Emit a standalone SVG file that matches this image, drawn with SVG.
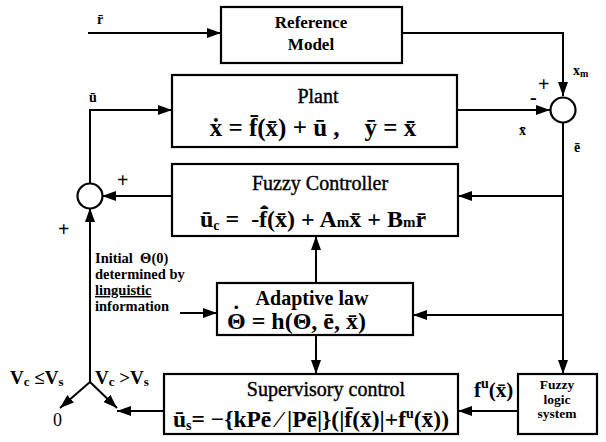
<svg xmlns="http://www.w3.org/2000/svg" width="606" height="442" viewBox="0 0 606 442">
<defs>
<marker id="ah" viewBox="0 0 14 10" refX="14" refY="5" markerWidth="14" markerHeight="10" markerUnits="userSpaceOnUse" orient="auto">
<path d="M0,0 L14,5 L0,10 Z" fill="#000"/>
</marker>
<style>
.box{fill:#fff;stroke:#000;stroke-width:2.2}
.ar{fill:none;stroke:#000;stroke-width:2;marker-end:url(#ah)}
text{font-family:'Liberation Serif','DejaVu Serif','Noto Serif',serif;font-weight:bold;fill:#000;white-space:pre}
.t{font-size:20px;text-anchor:middle}
.tn{font-size:20px;text-anchor:middle;font-weight:normal;stroke:#000;stroke-width:0.4}
.eq{font-size:24px;text-anchor:middle}
.lb{font-size:14px}
.sm{font-size:14.5px}
.pm{font-size:20px}
</style>
</defs>
<rect width="606" height="442" fill="#fff"/>
<g id="connectors">
<path class="ar" d="M88,33 H221"/>
<path class="ar" d="M402,33 H563 V96"/>
<path class="ar" d="M457,110 H550"/>
<path class="ar" d="M563,122 V374"/>
<path class="ar" d="M563,196 H458"/>
<path class="ar" d="M563,315 H413"/>
<path class="ar" d="M90,184 V110 H172"/>
<path class="ar" d="M172,196 H102"/>
<path class="ar" d="M316,283 V236"/>
<path class="ar" d="M316,335 V374"/>
<path class="ar" d="M180,313 H217"/>
<path class="ar" d="M518,411 H458"/>
<path class="ar" d="M164,411 H117"/>
<path class="ar" d="M90,382 V208"/>
<path class="ar" d="M90,382 L60,408"/>
<path class="ar" d="M90,382 L117,408"/>
</g>
<g id="reference-model">
<rect class="box" x="221" y="7" width="181" height="56"/>
<text class="t" x="311" y="28" style="font-size:17px">Reference</text>
<text class="t" x="311" y="50" style="font-size:17px">Model</text>
</g>
<g id="plant">
<rect class="box" x="172" y="75" width="285" height="72"/>
<text class="tn" x="318" y="103">Plant</text>
<text class="eq" x="313" y="136" style="font-size:25px">ẋ = f̄(x̄) + ū ,    ȳ = x̄</text>
</g>
<g id="sum-right">
<circle class="box" cx="563" cy="110" r="12.5"/>
</g>
<g id="fuzzy-controller">
<rect class="box" x="172" y="164" width="286" height="72"/>
<text class="tn" x="320" y="190">Fuzzy Controller</text>
<text class="eq" x="313" y="227">ū<tspan font-size="14" dy="3">c</tspan><tspan dy="-3"> =  -f̄̂(x̄) + A</tspan><tspan font-size="15">m</tspan>x̄ + B<tspan font-size="15">m</tspan>r̄</text>
</g>
<g id="sum-left">
<circle class="box" cx="90" cy="196" r="12.5"/>
</g>
<g id="adaptive-law">
<rect class="box" x="217" y="283" width="196" height="52"/>
<text class="t" x="312" y="305">Adaptive law</text>
<text x="227" y="329" style="font-size:24px">Θ<tspan dx="-13.5" dy="-7">˙</tspan><tspan dx="5.5" dy="7"> = h(Θ, ē, x̄)</tspan></text>
</g>
<g id="supervisory-control">
<rect class="box" x="164" y="374" width="294" height="60"/>
<text class="tn" x="326" y="396">Supervisory control</text>
<text class="eq" x="311" y="427" style="font-size:23.5px">ū<tspan font-size="14" dy="3">s</tspan><tspan dy="-3">= −{kPē ⁄ |Pē|}(|f̄(x̄)|+f</tspan><tspan font-size="14" dy="-9">u</tspan><tspan dy="9">(x̄))</tspan></text>
</g>
<g id="fuzzy-logic-system">
<rect class="box" x="518" y="374" width="79" height="60"/>
<text class="t" x="557" y="389" style="font-size:13.5px">Fuzzy</text>
<text class="t" x="557" y="403.5" style="font-size:13.5px">logic</text>
<text class="t" x="557" y="418" style="font-size:13.5px">system</text>
</g>
<g id="labels">
<text class="lb" x="97" y="24">r̄</text>
<text class="lb" x="89" y="102">ū</text>
<text class="lb" x="519" y="135">x̄</text>
<text class="lb" x="574" y="152">ē</text>
<text class="lb" x="573" y="75">x<tspan font-size="10" dy="2">m</tspan></text>
<text class="pm" x="538" y="91">+</text>
<text class="pm" x="530" y="104">-</text>
<text class="pm" x="117" y="187">+</text>
<text class="pm" x="58" y="236">+</text>
<text class="sm" x="95" y="263">Initial  Θ(0)</text>
<text class="sm" x="95" y="279">determined by</text>
<text class="sm" x="95" y="295" text-decoration="underline">linguistic</text>
<text class="sm" x="95" y="311">information</text>
<text x="474" y="397" style="font-size:21px">f<tspan font-size="14" dy="-9">u</tspan><tspan dy="9">(x̄)</tspan></text>
<text x="10" y="384" style="font-size:19px">V<tspan font-size="13" dy="2">c</tspan><tspan dy="-2"> ≤V</tspan><tspan font-size="13" dy="2">s</tspan></text>
<text x="95" y="384" style="font-size:19px">V<tspan font-size="13" dy="2">c</tspan><tspan dy="-2"> &gt;V</tspan><tspan font-size="13" dy="2">s</tspan></text>
<text x="53" y="426" style="font-weight:normal;font-size:18px">0</text>
</g>
</svg>
